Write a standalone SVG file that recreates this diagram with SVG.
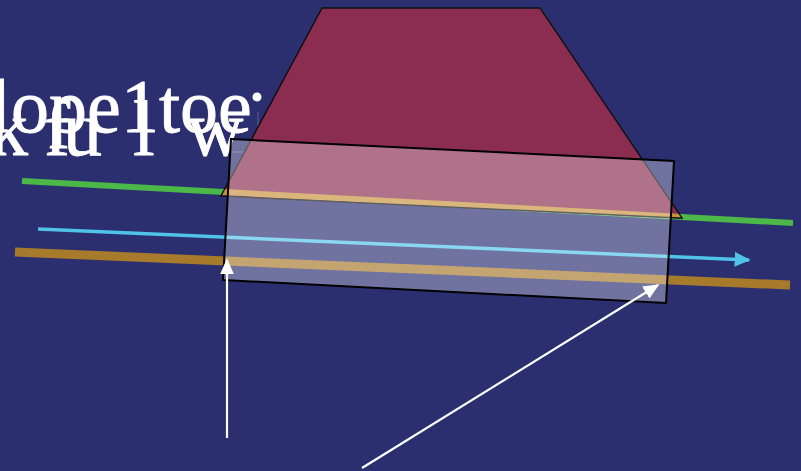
<svg xmlns="http://www.w3.org/2000/svg" width="801" height="471" viewBox="0 0 801 471">
<style>
.t{font-family:"Liberation Serif","Times New Roman",serif;font-size:76px;fill:#ffffff;stroke:#ffffff;stroke-width:0.8}
.ln{fill:none;stroke-linecap:butt}
.wa{stroke:#ffffff;stroke-width:2.2;fill:none}
</style>
<defs>
<marker id="aw" viewBox="0 0 10 10" refX="9" refY="5" markerWidth="16" markerHeight="14" markerUnits="userSpaceOnUse" orient="auto" preserveAspectRatio="none">
<path d="M0,0 L10,5 L0,10 z" fill="#ffffff"/>
</marker>
<marker id="ac" viewBox="0 0 10 10" refX="9" refY="5" markerWidth="16" markerHeight="15" markerUnits="userSpaceOnUse" orient="auto" preserveAspectRatio="none">
<path d="M0,0 L10,5 L0,10 z" fill="#4fc3ea"/>
</marker>
<clipPath id="trapClip"><polygon points="322,8 540,8 682,218 221,196"/></clipPath>
</defs>
<rect x="0" y="0" width="801" height="471" fill="#2b2f70"/>
<g id="title">
<text class="t"><tspan x="-10" y="132">l</tspan><tspan x="11" y="132">o</tspan><tspan x="49" y="132">p</tspan><tspan x="87" y="132">e</tspan><tspan x="121" y="132">1</tspan><tspan x="159" y="132">t</tspan><tspan x="180" y="132">o</tspan><tspan x="218" y="132">e</tspan></text>
<text class="t" style="font-size:78px"><tspan x="-11" y="155">k</tspan><tspan x="44" y="155">f</tspan><tspan x="63" y="155">u</tspan><tspan x="133" y="155">l</tspan><tspan x="187" y="155">w</tspan></text>
<circle cx="257" cy="97" r="4.5" fill="#ffffff"/>
<path d="M258,112 V152 H232" fill="none" stroke="#ffffff" stroke-opacity="0.25" stroke-width="1"/>
</g>
<g id="connectors">
<line id="green" class="ln" x1="22" y1="181" x2="793" y2="223" stroke="#4cb848" stroke-width="6"/>
<line id="cyan" class="ln" x1="38" y1="229" x2="749" y2="260" stroke="#4fc3ea" stroke-width="3.5" marker-end="url(#ac)"/>
<line id="orange" class="ln" x1="15" y1="252" x2="790" y2="285" stroke="#a87a2c" stroke-width="9"/>
</g>
<g id="prism">
<polygon points="322,8 540,8 682,218 221,196" fill="#8a2d50" stroke="#111" stroke-width="1.2"/>
<line x1="22" y1="181" x2="793" y2="223" stroke="#c8923c" stroke-width="6" clip-path="url(#trapClip)"/>
<polygon points="322,8 540,8 682,218 221,196" fill="none" stroke="#111" stroke-width="1.2"/>
</g>
<g id="block">
<polygon points="231,139 674,161 666,303 223,280" fill="#ffffff" fill-opacity="0.33" stroke="#000" stroke-width="2"/>
</g>
<g id="pointers">
<line class="wa" x1="227" y1="438" x2="227" y2="260" marker-end="url(#aw)"/>
<line class="wa" x1="362" y1="468" x2="658" y2="285" marker-end="url(#aw)"/>
</g>
</svg>
